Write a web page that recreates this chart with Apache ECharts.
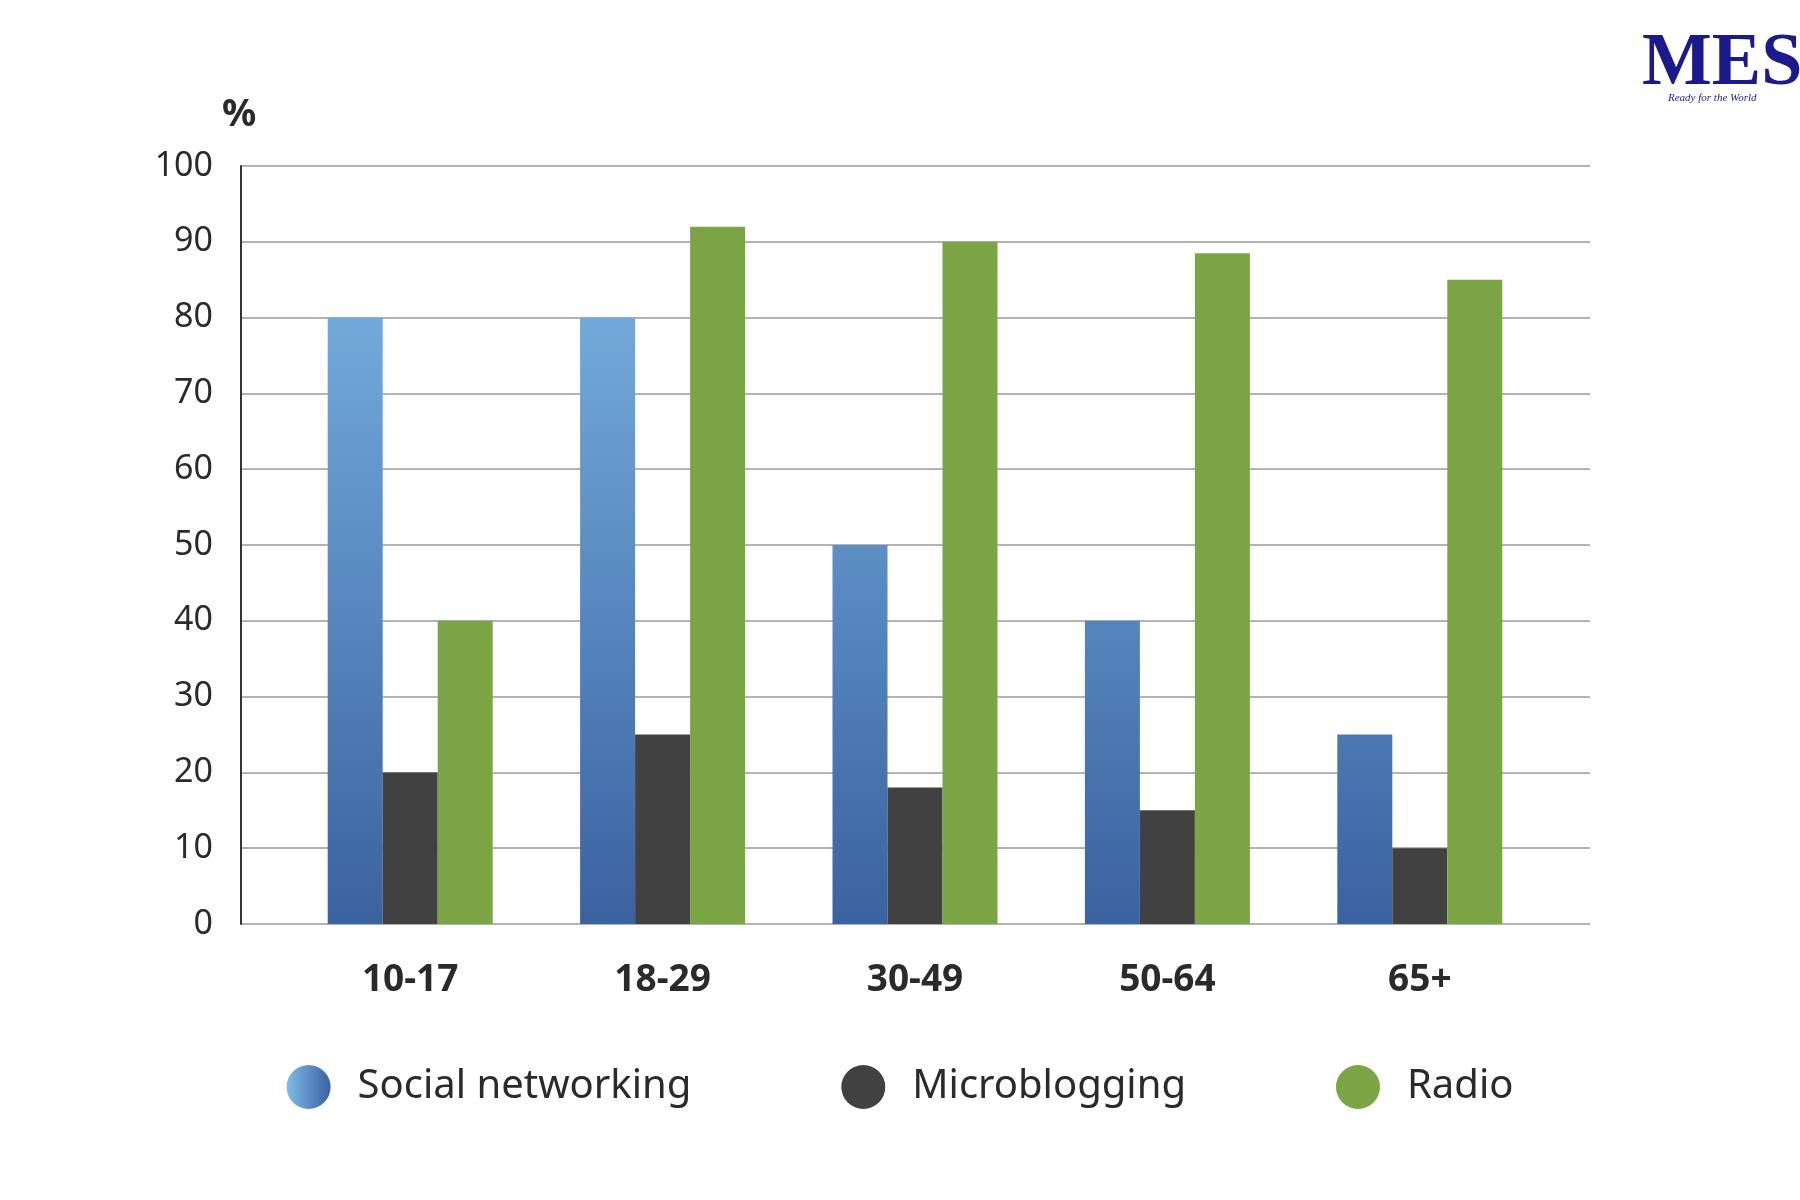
<!DOCTYPE html>
<html><head><meta charset="utf-8">
<script src="https://cdn.jsdelivr.net/npm/echarts@6/dist/echarts.min.js"></script>
<style>html,body{margin:0;background:#fff}#c{width:1800px;height:1200px}</style>
</head><body><div id="c"></div>
<script>
var ageGroups = ['10-17', '18-29', '30-49', '50-64', '65+'];
var socialNetworking = [80, 80, 50, 40, 25];
var microblogging = [20, 25, 18, 15, 10];
var radio = [40, 92, 90, 88.5, 85];

var font = 'Noto Sans';
var chart = echarts.init(document.getElementById('c'));
// gradient spans the whole plot height, as in the original
var snGrad = new echarts.graphic.LinearGradient(0, 166, 0, 924, [
  {offset: 0, color: '#80bbea'}, {offset: 1, color: '#3a629f'}
], true);
var legendGrad = new echarts.graphic.LinearGradient(0, 0, 1, 0, [
  {offset: 0, color: '#80bbea'}, {offset: 1, color: '#3a629f'}
]);

chart.setOption({
  animation: false,
  textStyle: {fontFamily: font},
  grid: [
    {left: 241, right: 210, top: 166, bottom: 276},
    {left: 284, right: 254, top: 166, bottom: 276}
  ],
  xAxis: [
    {gridIndex: 0, type: 'value', min: 0, max: 1, show: false},
    {gridIndex: 1, type: 'category', data: ageGroups,
      axisLine: {show: false}, axisTick: {show: false},
      axisLabel: {margin: 38, fontSize: 37, fontWeight: 'bold', color: '#2a2a2a', fontFamily: font}}
  ],
  yAxis: [
    {gridIndex: 0, type: 'value', min: 0, max: 100, interval: 10,
      axisLine: {show: true, lineStyle: {color: '#333', width: 2}},
      axisTick: {show: false},
      splitLine: {lineStyle: {color: '#9a9a9a', width: 1.5}},
      axisLabel: {margin: 28, fontSize: 34, color: '#2a2a2a', fontFamily: font, padding: [0, 0, 18, 0]}},
    {gridIndex: 1, type: 'value', min: 0, max: 100, show: false}
  ],
  legend: {
    bottom: 86, left: 'center', itemGap: 150, itemWidth: 44, itemHeight: 44,
    icon: 'circle',
    textStyle: {fontSize: 40, color: '#2a2a2a', padding: [0, 0, 0, 22], fontFamily: font},
    data: [
      {name: 'Social networking', itemStyle: {color: legendGrad}},
      {name: 'Microblogging'},
      {name: 'Radio'}
    ]
  },
  graphic: [
    {type: 'text', left: 222, top: 96, style: {text: '%', fontSize: 38, fontWeight: 'bold', fill: '#2a2a2a', fontFamily: font}},
    {type: 'text', left: 1642, top: 28, style: {text: 'MES', fontSize: 74, fontWeight: 'bold', fill: '#1a1a8c', fontFamily: 'Liberation Serif'}},
    {type: 'text', left: 1668, top: 93, style: {text: 'Ready for the World', fontSize: 11, fontStyle: 'italic', fill: '#1a1a8c', fontFamily: 'Liberation Serif'}}
  ],
  series: [
    {name: 'Social networking', type: 'bar', xAxisIndex: 1, yAxisIndex: 1, data: socialNetworking,
      barWidth: 55, barGap: '0%', itemStyle: {color: snGrad}},
    {name: 'Microblogging', type: 'bar', xAxisIndex: 1, yAxisIndex: 1, data: microblogging,
      barWidth: 55, barGap: '0%', itemStyle: {color: '#414141'}},
    {name: 'Radio', type: 'bar', xAxisIndex: 1, yAxisIndex: 1, data: radio,
      barWidth: 55, barGap: '0%', itemStyle: {color: '#7ba445'}}
  ]
});
</script></body></html>
